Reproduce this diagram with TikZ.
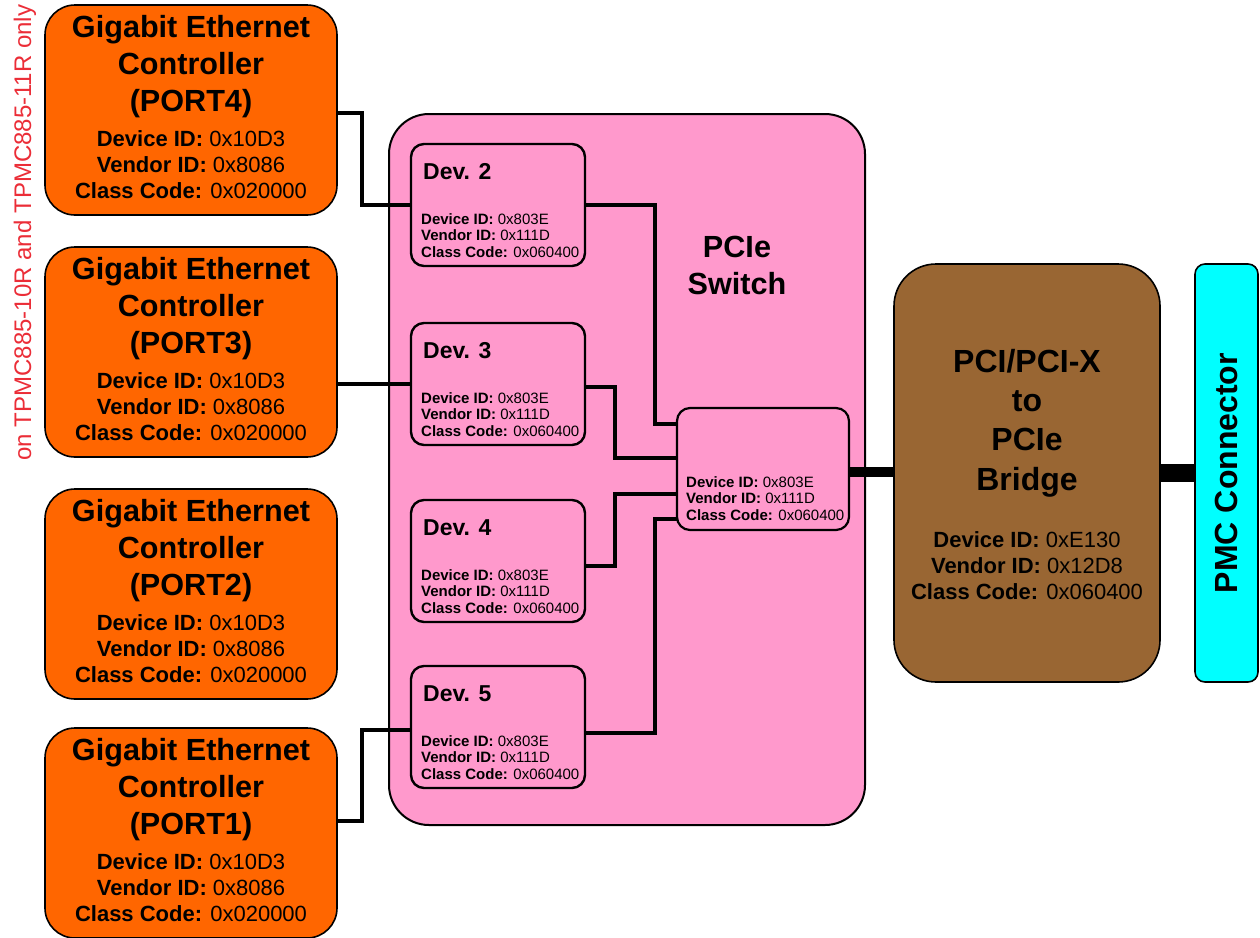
\documentclass[tikz,border=0pt]{standalone}
\usepackage{fontspec}
\setmainfont{Liberation Sans}
\usetikzlibrary{calc}

\definecolor{gecorange}{HTML}{FF6600}
\definecolor{switchpink}{HTML}{FF99CC}
\definecolor{bridgebrown}{HTML}{996633}
\definecolor{pmccyan}{HTML}{00FFFF}
\definecolor{notered}{RGB}{235,45,55}

\tikzset{
  box/.style={draw=black, inner sep=0pt, outer sep=0pt},
  gecbox/.style={box, fill=gecorange, line width=1.6pt, rounded corners=30pt,
    minimum width=292pt, minimum height=210pt},
  devbox/.style={box, fill=switchpink, line width=2.4pt, rounded corners=13pt,
    minimum width=174pt, minimum height=122pt},
  gectitle/.style={inner sep=0pt, align=center, anchor=north,
    font=\fontsize{30.6}{37}\selectfont\bfseries},
  gecinfo/.style={inner sep=0pt, align=center, anchor=north,
    font=\fontsize{22}{26}\selectfont},
  devtitle/.style={inner sep=0pt, anchor=base west,
    font=\fontsize{23}{26}\selectfont\bfseries},
  devinfo/.style={inner sep=0pt, align=left, anchor=north west,
    font=\fontsize{15}{16.7}\selectfont},
  wire/.style={draw=black, line width=3.3pt},
  bus/.style={draw=black, line width=10pt},
  widebus/.style={draw=black, line width=18pt},
}

\begin{document}
\begin{tikzpicture}[x=1pt, y=-1pt]
\useasboundingbox (0,0) rectangle (1260,937);

% PCIe switch body
\node[box, fill=switchpink, line width=2pt, rounded corners=40pt,
  minimum width=476pt, minimum height=711pt] (sw) at (627,469.5) {};
\node[inner sep=0pt, align=center, anchor=north,
  font=\fontsize{30.6}{37}\selectfont\bfseries] (swlabel) at (737,236) {PCIe\\Switch};

% Ethernet controllers
\foreach \n/\cy in {4/110, 3/352, 2/594, 1/833} {
  \node[gecbox] (p\n) at (191,\cy) {};
  \node[gectitle] (p\n t) at ($(p\n.north)+(0,10)$) {Gigabit Ethernet\\Controller\\(PORT\n)};
  \node[gecinfo] (p\n i) at ($(p\n.north)+(0,125)$)
    {\textbf{Device ID:} 0x10D3\\\textbf{Vendor ID:} 0x8086\\\textbf{Class Code:} 0x020000};
}

% Downstream ports of the switch
\foreach \n/\cy in {2/205, 3/384, 4/561, 5/727} {
  \node[devbox] (d\n) at (498,\cy) {};
  \node[devtitle] (d\n t) at ($(d\n.north west)+(12,35)$) {Dev. \n};
  \node[devinfo] (d\n i) at ($(d\n.north west)+(10,69)$)
    {\textbf{Device ID:} 0x803E\\\textbf{Vendor ID:} 0x111D\\\textbf{Class Code:} 0x060400};
}

% Upstream port of the switch
\node[box, fill=switchpink, line width=2.2pt, rounded corners=13pt,
  minimum width=172pt, minimum height=122pt] (hub) at (763,469) {};
\node[devinfo] (hubi) at ($(hub.north west)+(9,68)$)
  {\textbf{Device ID:} 0x803E\\\textbf{Vendor ID:} 0x111D\\\textbf{Class Code:} 0x060400};

% Bridge
\node[box, fill=bridgebrown, line width=1.6pt, rounded corners=42pt,
  minimum width=266pt, minimum height=418pt] (br) at (1027,473) {};
\node[inner sep=0pt, align=center, anchor=north,
  font=\fontsize{32}{39.3}\selectfont\bfseries] (brt) at (1027,349)
  {PCI/PCI-X\\to\\PCIe\\Bridge};
\node[gecinfo] (bri) at (1027,531)
  {\textbf{Device ID:} 0xE130\\\textbf{Vendor ID:} 0x12D8\\\textbf{Class Code:} 0x060400};

% PMC connector
\node[box, fill=pmccyan, line width=1.6pt, rounded corners=10pt,
  minimum width=63pt, minimum height=418pt] (pmc) at (1226.5,473) {};
\node[rotate=90, inner sep=0pt, font=\fontsize{32}{38}\selectfont\bfseries]
  (pmct) at (pmc.center) {PMC Connector};

% Variant note
\node[rotate=90, anchor=base, inner sep=0pt, text=notered,
  font=\fontsize{24}{28}\selectfont] (note) at (31,232.5)
  {on TPMC885-10R and TPMC885-11R only};

% Controller links
\draw[wire] ($(p4.east)+(0,3)$) -| ($(d2.west)+(-49,0)$) -- (d2.west);
\draw[wire] (d3.west) -- (d3.west -| p3.east);
\draw[wire] ($(d4.west)+(0,5)$) -- ($(d4.west)+(0,5)$ -| p2.east);
\draw[wire] ($(p1.east)+(0,-12)$) -| ($(d5.west)+(-49,3)$) -- ($(d5.west)+(0,3)$);

% Internal switch links
\draw[wire] (d2.east) -| ($(hub.west)+(-22,-45)$) -- ($(hub.west)+(0,-45)$);
\draw[wire] ($(d3.east)+(0,3)$) -| ($(hub.west)+(-62,-11)$) -- ($(hub.west)+(0,-11)$);
\draw[wire] ($(d4.east)+(0,5)$) -| ($(hub.west)+(-62,25)$) -- ($(hub.west)+(0,25)$);
\draw[wire] ($(d5.east)+(0,6)$) -| ($(hub.west)+(-22,50)$) -- ($(hub.west)+(0,50)$);

% Buses to bridge and connector
\draw[bus] ($(hub.east)+(0,3)$) -- ($(br.west)+(0,-1)$);
\draw[widebus] (br.east) -- (pmc.west);
\end{tikzpicture}
\end{document}
